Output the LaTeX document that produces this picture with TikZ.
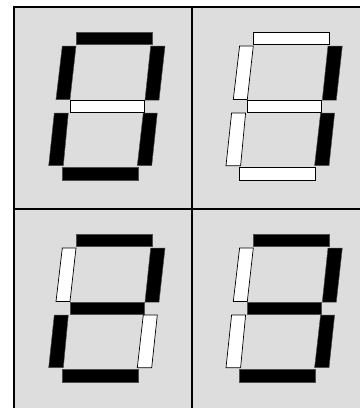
\documentclass[tikz,border=0pt]{standalone}
\usepackage{tikz}
\definecolor{panelgray}{HTML}{DDDDDD}
\tikzset{
  segon/.style={fill=black, draw=black!70, line width=0.5pt},
  segoff/.style={fill=white, draw=black, line width=0.7pt},
  frameline/.style={draw=black, line width=2pt},
}
% #1 dx, #2 dy, #3..#9 styles: top, upper-left, upper-right, middle, lower-left, lower-right, bottom
\newcommand{\sevdigit}[9]{%
  \begin{scope}[shift={(#1,#2)}]
    \path[#3] (76,32.3) -- (152,32.3) -- (152,44.3) -- (76,44.3) -- cycle;
    \path[#4] (62.3,46) -- (76,46) -- (70,99.5) -- (56,99.5) -- cycle;
    \path[#5] (150.7,46) -- (165,46) -- (159,100) -- (145,100) -- cycle;
    \path[#6] (70,100) -- (144,100) -- (144,112.3) -- (70,112.3) -- cycle;
    \path[#7] (54.3,113) -- (68.3,113) -- (63.3,165.7) -- (48.7,165.7) -- cycle;
    \path[#8] (143.3,113) -- (157.3,113) -- (151.7,165.7) -- (137.3,165.7) -- cycle;
    \path[#9] (62,167.7) -- (138,167.7) -- (138,180) -- (62,180) -- cycle;
  \end{scope}}
\begin{document}
\begin{tikzpicture}[x=1pt,y=-1pt]
  \useasboundingbox (0,0) rectangle (360,408);
  \fill[panelgray] (14,7) rectangle (360,408);
  \draw[frameline] (14,408) -- (14,7) -- (360,7);
  \draw[frameline] (191.5,7) -- (191.5,408);
  \draw[frameline] (14,209) -- (360,209);
  \sevdigit{0}{0}{segon}{segon}{segon}{segoff}{segon}{segon}{segon}
  \sevdigit{177.3}{0}{segoff}{segoff}{segon}{segoff}{segoff}{segon}{segoff}
  \sevdigit{0}{202}{segon}{segoff}{segon}{segon}{segon}{segoff}{segon}
  \sevdigit{177.3}{202}{segon}{segoff}{segon}{segon}{segoff}{segon}{segon}
\end{tikzpicture}
\end{document}
